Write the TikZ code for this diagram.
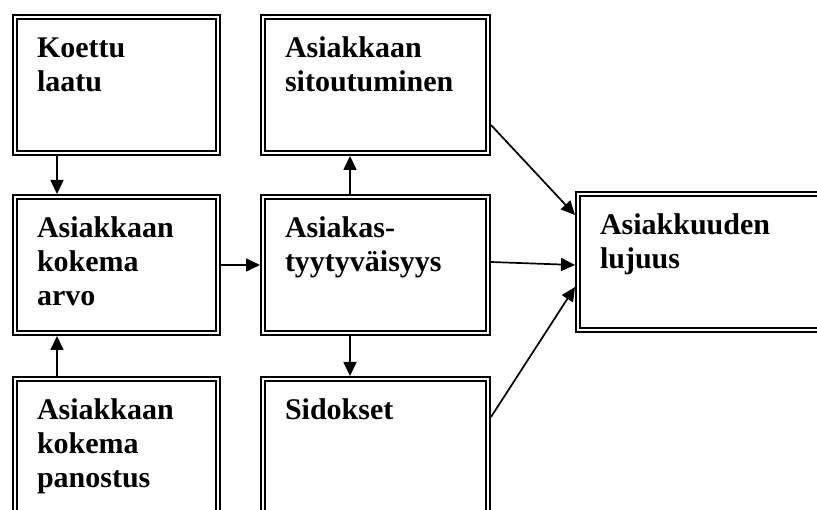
\documentclass[tikz,border=0pt]{standalone}
\usepackage{fontspec}
\setmainfont{Liberation Serif}
\usepackage{tikz}
\usetikzlibrary{arrows.meta}
\definecolor{framecolor}{HTML}{000000}
\colorlet{boxtext}{black}
\tikzstyle{mybox} = [
    draw=framecolor,
    line width=1.8pt,
    double=white,
    double distance=2.4pt,
    outer sep=3pt,
    rectangle,
    anchor=north west,
    inner xsep=22pt,
    inner ysep=0pt,
    text height=41pt,
    text depth=95pt,
    align=left,
    text=boxtext,
    font=\fontsize{30}{34}\selectfont\bfseries
    ]
\tikzstyle{narrowbox} = [mybox, text width=159pt]
\tikzstyle{widebox} = [mybox, text width=181pt]
\tikzstyle{link} = [
    draw=framecolor,
    line width=1.7pt,
    -{Triangle[length=14pt,width=13pt]}
    ]

\begin{document}
\begin{tikzpicture}[x=1pt,y=1pt]
\useasboundingbox (0,0) rectangle (817,-510);
\clip (0,0) rectangle (817,-510);
\fill[white] (0,0) rectangle (817,-510);

% left column
\node[narrowbox] (laatu) at (12,-14) {Koettu\\laatu};
\node[narrowbox] (arvo) at (12,-194) {Asiakkaan\\kokema\\arvo};
\node[narrowbox] (panostus) at (12,-376) {Asiakkaan\\kokema\\panostus};

% middle column
\node[widebox] (sitout) at (260,-14) {Asiakkaan\\sitoutuminen};
\node[widebox] (tyyt) at (260,-194) {Asiakas-\\tyytyväisyys};
\node[widebox] (sidokset) at (260,-376) {Sidokset};

% right
\node[mybox, text width=208pt] (lujuus) at (575,-191) {Asiakkuuden\\lujuus};

\draw[link] ([xshift=45pt]laatu.south west) -- ([xshift=45pt]arvo.north west);
\draw[link] ([xshift=45pt]panostus.north west) -- ([xshift=45pt]arvo.south west);
\draw[link] (arvo.east) -- (tyyt.west);
\draw[link] ([xshift=90pt]tyyt.north west) -- ([xshift=90pt]sitout.south west);
\draw[link] ([xshift=90pt]tyyt.south west) -- ([xshift=90pt]sidokset.north west);
\draw[link] ([yshift=-111pt]sitout.north east) -- ([yshift=-24pt]lujuus.north west);
\draw[link] ([yshift=3pt]tyyt.east) -- ([yshift=-3pt]lujuus.west);
\draw[link] ([yshift=-41pt]sidokset.north east) -- ([yshift=-96pt]lujuus.north west);
\end{tikzpicture}
\end{document}
